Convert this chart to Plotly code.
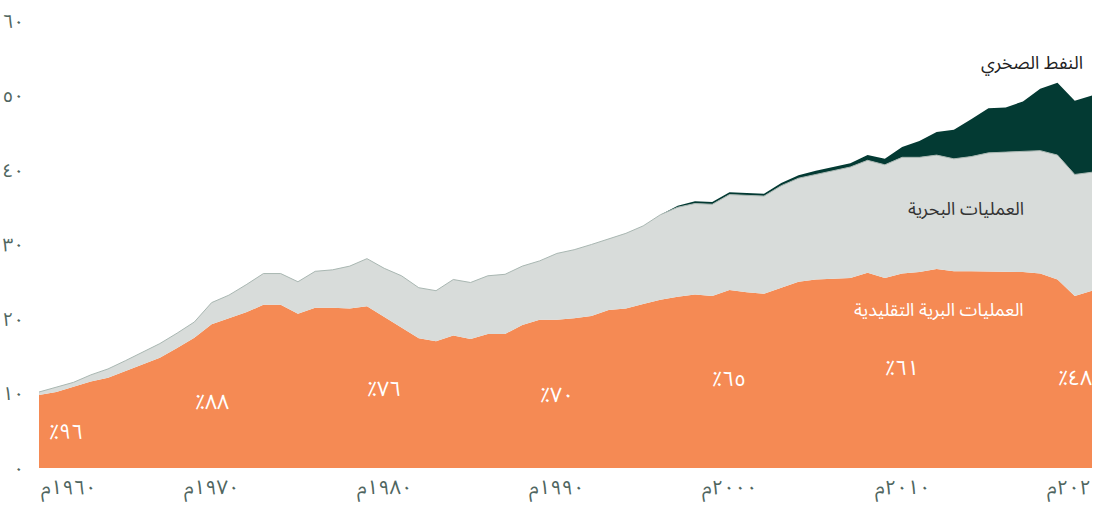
import plotly.graph_objects as go

years = list(range(1960, 2022))

onshore = [9.8, 10.2, 10.9, 11.6, 12.1, 13.0, 13.9, 14.8, 16.1, 17.5,
           19.3, 20.1, 20.9, 21.9, 21.9, 20.7, 21.5, 21.5, 21.4, 21.7,
           20.3, 18.8, 17.4, 17.0, 17.8, 17.3, 18.0, 18.0, 19.2, 19.9,
           19.9, 20.1, 20.4, 21.2, 21.4, 22.0, 22.6, 23.0, 23.3, 23.1,
           23.9, 23.6, 23.4, 24.2, 25.0, 25.3, 25.4, 25.5, 26.2, 25.5,
           26.1, 26.3, 26.7, 26.4, 26.4, 26.4, 26.4, 26.3, 26.1, 25.3,
           23.1, 23.8]

offshore = [0.4, 0.6, 0.6, 0.9, 1.2, 1.4, 1.6, 1.9, 2.0, 2.1,
            2.9, 3.1, 3.7, 4.2, 4.2, 4.3, 4.9, 5.1, 5.7, 6.4,
            6.5, 7.0, 6.8, 6.8, 7.5, 7.6, 7.8, 8.0, 7.9, 7.9,
            8.9, 9.2, 9.6, 9.5, 10.1, 10.5, 11.4, 12.0, 12.2, 12.3,
            12.8, 13.0, 13.1, 13.7, 13.9, 14.1, 14.5, 14.9, 15.1, 15.2,
            15.6, 15.4, 15.3, 15.1, 15.4, 15.9, 16.0, 16.2, 16.5, 16.7,
            16.3, 15.9]

shale = [0.0] * 37 + [0.2, 0.3, 0.3,
                      0.3, 0.3, 0.3, 0.35, 0.4, 0.5, 0.5, 0.5, 0.7, 0.8,
                      1.4, 2.2, 3.1, 3.9, 5.0, 6.0, 6.0, 6.7, 8.3, 9.7,
                      9.9, 10.3]

series_names = ["العمليات البرية التقليدية", "العمليات البحرية", "النفط الصخري"]

decade_years = [1960, 1970, 1980, 1990, 2000, 2010, 2020]
decade_labels = ["١٩٦٠م", "١٩٧٠م", "١٩٨٠م", "١٩٩٠م", "٢٠٠٠م", "٢٠١٠م", "٢٠٢٠م"]
onshore_share = ["٪٩٦", "٪٨٨", "٪٧٦", "٪٧٠", "٪٦٥", "٪٦١", "٪٤٨"]

y_ticks = [0, 10, 20, 30, 40, 50, 60]
y_tick_labels = ["٠", "١٠", "٢٠", "٣٠", "٤٠", "٥٠", "٦٠"]

# layout positions (not data)
share_label_y = [4.8, 8.9, 10.6, 9.8, 11.9, 13.4, 12.1]
series_label_pos = [(2017.2, 21.2), (2017.2, 34.8), (2020.6, 54.3)]

ORANGE = "#F58A54"
GREY = "#D8DCDA"
DARK = "#033A33"
TICK = "#4F6660"
FONT = "Noto Sans Arabic, DejaVu Sans, sans-serif"

fig = go.Figure()
fig.add_trace(go.Scatter(x=years, y=onshore, stackgroup="one", mode="lines",
                         line=dict(width=0, color=ORANGE), fillcolor=ORANGE,
                         name=series_names[0], hoverinfo="skip"))
fig.add_trace(go.Scatter(x=years, y=offshore, stackgroup="one", mode="lines",
                         line=dict(width=1, color="#A9B7B2"), fillcolor=GREY,
                         name=series_names[1], hoverinfo="skip"))
fig.add_trace(go.Scatter(x=years, y=shale, stackgroup="one", mode="lines",
                         line=dict(width=0, color=DARK), fillcolor=DARK,
                         name=series_names[2], hoverinfo="skip"))

annotations = []
for i, (yr, lab) in enumerate(zip(decade_years, decade_labels)):
    annotations.append(dict(
        x=yr, y=0, xref="x", yref="paper", text=lab, showarrow=False,
        xanchor="left" if i == 0 else "center", yanchor="middle", yshift=-20,
        font=dict(family=FONT, size=20, color=TICK)))
for i, (yr, lab) in enumerate(zip(decade_years, onshore_share)):
    annotations.append(dict(
        x=yr, y=share_label_y[i], xref="x", yref="y", text=lab, showarrow=False,
        xanchor="left" if i == 0 else "center", yanchor="middle",
        xshift=8 if i == 0 else 0,
        font=dict(family=FONT, size=21, color="white")))
label_colors = ["white", "#333333", "#222222"]
for name, (lx, ly), col in zip(series_names, series_label_pos, label_colors):
    annotations.append(dict(
        x=lx, y=ly, xref="x", yref="y", text=name, showarrow=False,
        xanchor="right", yanchor="middle",
        font=dict(family=FONT, size=18, color=col)))

fig.update_layout(
    width=1094, height=509,
    margin=dict(l=38, r=2, t=15, b=41),
    paper_bgcolor="white", plot_bgcolor="white",
    showlegend=False,
    xaxis=dict(range=[1960, 2021], showgrid=False, zeroline=False,
               showticklabels=False, showline=False, fixedrange=True),
    yaxis=dict(range=[0, 60], tickvals=y_ticks, ticktext=y_tick_labels,
               showgrid=False, zeroline=False, showline=False,
               ticks="outside", ticklen=10, tickcolor="rgba(0,0,0,0)",
               ticklabeloverflow="allow",
               tickfont=dict(family=FONT, size=19, color=TICK), fixedrange=True),
    annotations=annotations,
)

fig.write_html(
    "out.html",
    config={"displayModeBar": False},
    post_script="document.body.style.margin='0';document.body.style.overflow='hidden';",
)
